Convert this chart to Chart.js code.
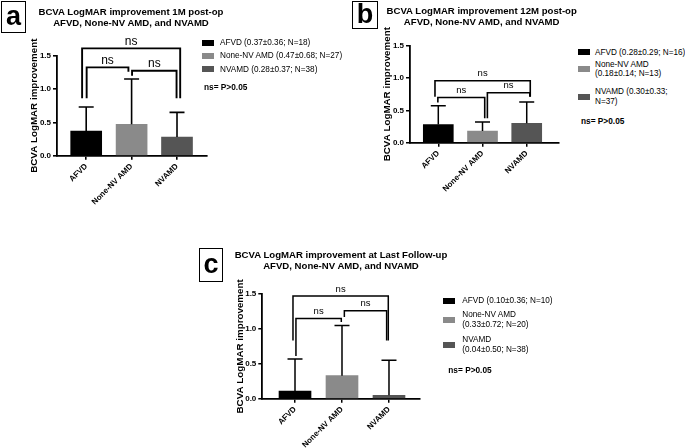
<!DOCTYPE html>
<html>
<head>
<meta charset="utf-8">
<script src="https://cdn.jsdelivr.net/npm/chart.js@4.4.1/dist/chart.umd.min.js"></script>
<style>
  body { margin: 0; background: #fff; width: 685px; height: 448px; position: relative; overflow: hidden;
         font-family: 'Liberation Sans', Arial, sans-serif; color: #000; }
  canvas { position: absolute; }
  .box { position: absolute; border: 1.5px solid #000; box-sizing: border-box; font-weight: bold;
         text-align: center; }
  .ttl { position: absolute; width: 300px; text-align: center; font-weight: bold; font-size: 9.6px;
         line-height: 11px; white-space: nowrap; }
  .leg { position: absolute; font-size: 8.2px; line-height: 9.5px; white-space: nowrap; }
  .sw { position: absolute; width: 12px; height: 6px; }
  .note { position: absolute; font-weight: bold; font-size: 8.3px; line-height: 10px; white-space: nowrap; }
</style>
</head>
<body>
<canvas id="chartA" width="215" height="215" style="left:0px;top:0px"></canvas>
<canvas id="chartB" width="200" height="200" style="left:365px;top:0px"></canvas>
<canvas id="chartC" width="215" height="208" style="left:215px;top:240px"></canvas>

<script>
// data
const categories = ['AFVD', 'None-NV AMD', 'NVAMD'];
const barColors = ['#000000', '#8a8a8a', '#555555'];
const yTicks = [0, 0.5, 1.0, 1.5];
const yTitle = 'BCVA LogMAR improvement';

const meanA = [0.37, 0.47, 0.28];
const sdA = [0.36, 0.68, 0.37];
const meanB = [0.28, 0.18, 0.30];
const sdB = [0.29, 0.14, 0.33];
const meanC = [0.11, 0.33, 0.05];
const sdC = [0.46, 0.72, 0.50];

const titleA = ['BCVA LogMAR improvement 1M post-op', 'AFVD, None-NV AMD, and NVAMD'];
const titleB = ['BCVA LogMAR improvement 12M post-op', 'AFVD, None-NV AMD, and NVAMD'];
const titleC = ['BCVA LogMAR improvement at Last Follow-up', 'AFVD, None-NV AMD, and NVAMD'];

const legendA = [['AFVD (0.37±0.36; N=18)'], ['None-NV AMD (0.47±0.68; N=27)'], ['NVAMD (0.28±0.37; N=38)']];
const legendB = [['AFVD (0.28±0.29; N=16)'], ['None-NV AMD', '(0.18±0.14; N=13)'], ['NVAMD (0.30±0.33;', 'N=37)']];
const legendC = [['AFVD (0.10±0.36; N=10)'], ['None-NV AMD', '(0.33±0.72; N=20)'], ['NVAMD', '(0.04±0.50; N=38)']];
const noteText = 'ns= P>0.05';

// significance brackets: [x from, x to, bracket level, left leg end, right leg end] (data units)
const bracketsA = [[0.91, 3.07, 1.61, 0.86, 0.86], [1.01, 1.93, 1.325, 0.86, 1.26], [2.01, 2.99, 1.275, 1.20, 0.86]];
const bracketsB = [[0.925, 3.08, 0.958, 0.71, 0.71], [0.99, 2.05, 0.70, 0.62, 0.38], [2.11, 3.07, 0.773, 0.38, 0.71]];
const bracketsC = [[0.957, 2.985, 1.47, 0.835, 0.835], [1.02, 1.985, 1.15, 0.61, 1.10], [2.05, 2.95, 1.26, 1.17, 0.835]];
const bracketLabel = 'ns';

Chart.defaults.font.family = "'Liberation Sans', Arial, sans-serif";
Chart.defaults.color = '#000';

function makePanel(id, means, sds, brackets, lay) {
    // garis error bar (mean + SD, ke atas aja)
    const errorBars = {
        id: 'errorBars',
        afterDatasetsDraw(chart) {
            const { ctx, scales: { y } } = chart;
            ctx.save();
            ctx.strokeStyle = '#000';
            ctx.lineWidth = lay.lw;
            chart.getDatasetMeta(0).data.forEach((bar, i) => {
                const top = y.getPixelForValue(means[i]);
                const end = y.getPixelForValue(means[i] + sds[i]);
                ctx.beginPath();
                ctx.moveTo(bar.x, top); ctx.lineTo(bar.x, end);
                ctx.moveTo(bar.x - 7.5, end); ctx.lineTo(bar.x + 7.5, end);
                ctx.stroke();
            });
            ctx.restore();
        }
    };
    // bracket "ns"
    const sigBrackets = {
        id: 'sigBrackets',
        afterDraw(chart) {
            const { ctx, scales: { x, y } } = chart;
            ctx.save();
            ctx.strokeStyle = '#000';
            ctx.lineWidth = lay.blw;
            ctx.fillStyle = '#000';
            ctx.font = lay.nsFont + "px 'Liberation Sans', Arial, sans-serif";
            ctx.textAlign = 'center';
            ctx.textBaseline = 'middle';
            brackets.forEach(b => {
                const x1 = x.getPixelForValue(b[0]), x2 = x.getPixelForValue(b[1]);
                const yl = y.getPixelForValue(b[2]);
                ctx.beginPath();
                ctx.moveTo(x1, y.getPixelForValue(b[3]));
                ctx.lineTo(x1, yl);
                ctx.lineTo(x2, yl);
                ctx.lineTo(x2, y.getPixelForValue(b[4]));
                ctx.stroke();
                ctx.fillText(bracketLabel, (x1 + x2) / 2, yl - 7);
            });
            ctx.restore();
        }
    };

    new Chart(document.getElementById(id), {
        type: 'bar',
        data: {
            datasets: [{
                data: means.map((m, i) => ({ x: i + 1, y: m })),
                backgroundColor: barColors,
                borderWidth: 0,
                barThickness: lay.barW
            }]
        },
        options: {
            responsive: false,
            animation: false,
            events: [],
            layout: { padding: lay.pad },
            plugins: { legend: { display: false }, tooltip: { enabled: false }, title: { display: false } },
            scales: {
                x: {
                    type: 'linear', min: lay.xMin, max: lay.xMax, offset: false, bounds: 'data',
                    afterBuildTicks: s => { s.ticks = categories.map((c, i) => ({ value: i + 1 })); },
                    afterFit: s => { s.height = lay.xH; s.paddingLeft = 0; s.paddingRight = 0; },
                    ticks: {
                        autoSkip: false, minRotation: 45, maxRotation: 45, padding: 2,
                        font: { size: 8, weight: 'bold' },
                        callback: v => categories[v - 1]
                    },
                    grid: { offset: false, drawOnChartArea: false, tickLength: 4, color: '#000', lineWidth: lay.lw },
                    border: { color: '#000', width: lay.alw }
                },
                y: {
                    min: 0, max: 1.5,
                    afterBuildTicks: s => { s.ticks = yTicks.map(v => ({ value: v })); },
                    afterFit: s => { s.width = lay.yW; s.paddingTop = 0; s.paddingBottom = 0; },
                    ticks: { padding: 2, font: { size: 8, weight: 'bold' }, callback: v => v.toFixed(1) },
                    grid: { drawOnChartArea: false, tickLength: 4, color: '#000', lineWidth: lay.lw },
                    border: { color: '#000', width: lay.alw },
                    title: { display: true, text: yTitle, padding: 0,
                             font: { size: 9.8, weight: 'bold', lineHeight: 1.2 } }
                }
            }
        },
        plugins: [errorBars, sigBrackets]
    });
}

makePanel('chartA', meanA, sdA, bracketsA, {
    pad: { left: 28.2, right: 8.3, top: 55.7, bottom: 0 }, yW: 28.8, xH: 59.3,
    xMin: 0.357, xMax: 3.654, barW: 31, lw: 1.6, alw: 1.8, blw: 1.9, nsFont: 12
});
makePanel('chartB', meanB, sdB, bracketsB, {
    pad: { left: 16.5, right: 6, top: 45.7, bottom: 0 }, yW: 28.5, xH: 57.3,
    xMin: 0.36, xMax: 3.73, barW: 30, lw: 1.5, alw: 1.8, blw: 1.6, nsFont: 9.5
});
makePanel('chartC', meanC, sdC, bracketsC, {
    pad: { left: 19.5, right: 10.7, top: 54, bottom: 0 }, yW: 27.8, xH: 49.3,
    xMin: 0.304, xMax: 3.645, barW: 32, lw: 1.5, alw: 1.8, blw: 1.5, nsFont: 9.5
});

// judul, kotak huruf panel, legend (HTML)
function addDiv(cls, css, html) {
    const d = document.createElement('div');
    d.className = cls;
    d.style.cssText = css;
    d.innerHTML = html;
    document.body.appendChild(d);
    return d;
}
function panelDeco(letter, box, title, tx, ty, legend, lx, tx2, ys, note) {
    addDiv('box', `left:${box[0]}px;top:${box[1]}px;width:${box[2]}px;height:${box[3]}px;font-size:${box[4]}px;line-height:${box[3] - 4}px`, letter);
    addDiv('ttl', `left:${tx - 150}px;top:${ty}px`, title.join('<br>'));
    legend.forEach((lines, i) => {
        addDiv('sw', `left:${lx}px;top:${ys[i] - 3}px;background:${barColors[i]}`, '');
        addDiv('leg', `left:${tx2}px;top:${ys[i] - lines.length * 4.75}px`, lines.join('<br>'));
    });
    addDiv('note', `left:${note[0]}px;top:${note[1] - 5}px`, noteText);
}
panelDeco('a', [1, 1, 25, 32, 27], titleA, 131, 5.5, legendA, 202, 220, [42.7, 56, 69.3], [204, 86.7]);
panelDeco('b', [352, 1, 26, 28, 27], titleB, 481.7, 5, legendB, 578.3, 595, [52.3, 69.2, 96.8], [581, 120.7]);
panelDeco('c', [199, 248, 24, 34, 27], titleC, 341, 249, legendC, 443.3, 462.3, [301, 319.5, 344.7], [448.3, 370]);
</script>
</body>
</html>
